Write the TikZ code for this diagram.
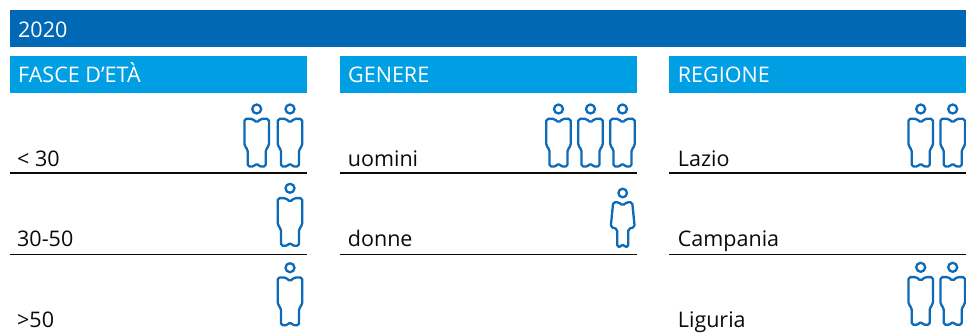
\documentclass[tikz,border=0pt]{standalone}
\usepackage{fontspec}
\setmainfont{Open Sans}
\definecolor{darkbar}{RGB}{0,104,180}
\definecolor{lightbar}{RGB}{0,159,227}
\definecolor{iconblue}{RGB}{12,106,184}
\definecolor{txt}{RGB}{10,10,10}
\tikzset{
  darkhead/.style={fill=darkbar,draw=none},
  lighthead/.style={fill=lightbar,draw=none},
  headtext/.style={anchor=base west,inner sep=0pt,text=white,font=\fontsize{21.5}{25}\selectfont},
  rowtext/.style={anchor=base west,inner sep=0pt,text=txt,font=\fontsize{21.5}{25}\selectfont},
  rule/.style={draw=txt,line width=1.6pt},
  iconline/.style={draw=iconblue,line width=2.3pt,line join=round,fill=none},
  man/.pic={
    \draw[iconline] (0,0) circle[radius=4.5pt];
    \draw[iconline,rounded corners=1.8pt] (0,13.8) -- (4,9.8) -- (12.2,9.8) -- (12.2,37) -- (9,40.5) -- (9,57.5) -- (2.4,57.5) -- (0,54) -- (-2.4,57.5) -- (-9,57.5) -- (-9,40.5) -- (-12.2,37) -- (-12.2,9.8) -- (-4,9.8) -- cycle;
  },
  woman/.pic={
    \draw[iconline] (0,0) circle[radius=4.3pt];
    \draw[iconline,rounded corners=1.8pt] (0,12.8) -- (3.8,9.2) -- (9.5,9.2) -- (12,34) -- (5.5,36) -- (5.5,54) -- (1.8,54) -- (0,50.5) -- (-1.8,54) -- (-5.5,54) -- (-5.5,36) -- (-12,34) -- (-9.5,9.2) -- (-3.8,9.2) -- cycle;
  }
}
\begin{document}
\begin{tikzpicture}[x=1pt,y=-1pt]
\useasboundingbox (0,0) rectangle (966,332);
% header bars
\path[darkhead] (10,10) rectangle (966,47);
\node[headtext] (year) at (18,37.3) {2020};
\path[lighthead] (10,56) rectangle (307,93);
\path[lighthead] (340,56) rectangle (637,93);
\path[lighthead] (669,56) rectangle (966,93);
\node[headtext] (h1) at (18,82) {FASCE D’ETÀ};
\node[headtext] (h2) at (348,82) {GENERE};
\node[headtext] (h3) at (677.7,82) {REGIONE};
% rules
\coordinate (a1) at (10,172.7); \coordinate (b1) at (307,172.7);
\coordinate (a2) at (10,254.3); \coordinate (b2) at (307,254.3);
\coordinate (c1) at (340,172.7); \coordinate (d1) at (637,172.7);
\coordinate (c2) at (340,254.3); \coordinate (d2) at (637,254.3);
\coordinate (e1) at (669,172.7); \coordinate (f1) at (966,172.7);
\coordinate (e2) at (669,254.3); \coordinate (f2) at (966,254.3);
\draw[rule] (a1) -- (b1); \draw[rule] (a2) -- (b2);
\draw[rule] (c1) -- (d1); \draw[rule] (c2) -- (d2);
\draw[rule] (e1) -- (f1); \draw[rule] (e2) -- (f2);
% row texts
\node[rowtext] (r11) at (17,166.7) {< 30};
\node[rowtext] (r12) at (17,246) {30-50};
\node[rowtext] (r13) at (17,327) {>50};
\node[rowtext] (r21) at (347.7,166.7) {uomini};
\node[rowtext] (r22) at (347.7,246) {donne};
\node[rowtext] (r31) at (677.7,166.7) {Lazio};
\node[rowtext] (r32) at (677.7,246) {Campania};
\node[rowtext] (r33) at (677.7,327) {Liguria};
% icons
\pic at (256.7,109) {man};
\pic at (290,109) {man};
\pic at (290,188.3) {man};
\pic at (290,267.7) {man};
\pic at (558.5,109) {man};
\pic at (590.5,109) {man};
\pic at (622.5,109) {man};
\pic at (622.7,193) {woman};
\pic at (920.7,109) {man};
\pic at (952.7,109) {man};
\pic at (920.7,267.3) {man};
\pic at (952.7,267.3) {man};
\end{tikzpicture}
\end{document}
